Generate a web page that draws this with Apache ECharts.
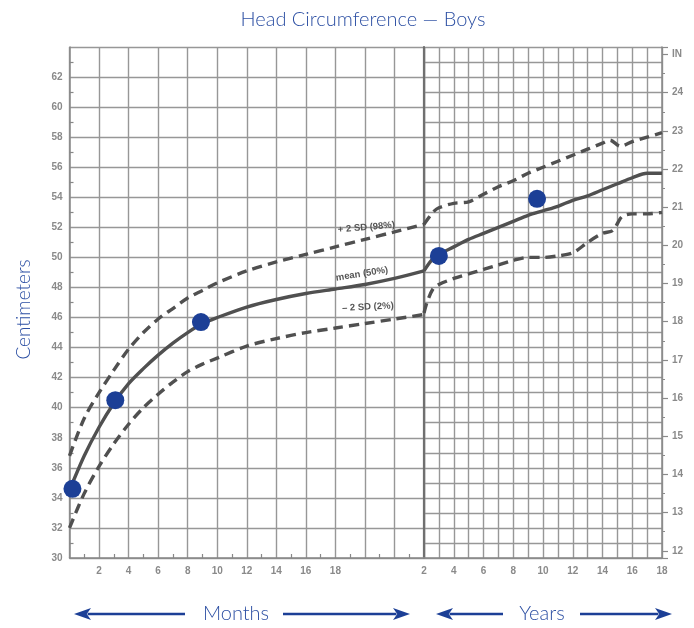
<!DOCTYPE html>
<html><head><meta charset="utf-8">
<script src="https://cdn.jsdelivr.net/npm/echarts@6/dist/echarts.min.js"></script>
<style>html,body{margin:0;padding:0;background:#fff}#c{width:694px;height:628px}</style>
</head><body><div id="c"></div>
<script>
// ---- tick labels ----
const monthTicks = [2, 4, 6, 8, 10, 12, 14, 16, 18];
const yearTicks = [2, 4, 6, 8, 10, 12, 14, 16, 18];
const cmTicks = [30, 32, 34, 36, 38, 40, 42, 44, 46, 48, 50, 52, 54, 56, 58, 60, 62];
const inchTicks = [12, 13, 14, 15, 16, 17, 18, 19, 20, 21, 22, 23, 24];

// ---- months section (age in months, head circumference cm) ----
const monthAges   = [0, 1, 2, 3, 4, 5, 6, 7, 8, 9, 10, 12, 14, 16, 18, 20, 22, 24];
const meanMonths  = [34.5, 36.8, 38.7, 40.3, 41.6, 42.6, 43.5, 44.3, 45.0, 45.6, 46.0, 46.7, 47.2, 47.6, 47.9, 48.2, 48.6, 49.1];
const upperMonths = [36.8, 39.3, 41.0, 42.5, 43.9, 45.0, 45.9, 46.6, 47.3, 47.8, 48.3, 49.1, 49.7, 50.2, 50.7, 51.2, 51.7, 52.2];
const lowerMonths = [32.0, 34.3, 36.1, 37.6, 38.9, 40.0, 40.9, 41.7, 42.4, 42.9, 43.3, 44.1, 44.6, 45.0, 45.3, 45.6, 45.9, 46.2];

// ---- years section (age in years, cm) ----
const meanYearAges  = [2, 2.5, 3, 4, 5, 6, 7, 8, 9, 10, 11, 12, 13, 14, 15, 16, 17, 18];
const meanYears     = [49.1, 49.8, 50.2, 50.7, 51.2, 51.6, 52.0, 52.4, 52.8, 53.1, 53.4, 53.8, 54.1, 54.5, 54.9, 55.3, 55.6, 55.6];
const upperYearAges = [2, 2.6, 3, 4, 5, 6, 7, 8, 9, 10, 11, 12, 13, 14, 14.5, 15.2, 16, 17, 18];
const upperYears    = [52.2, 53.0, 53.3, 53.6, 53.7, 54.2, 54.7, 55.1, 55.6, 56.0, 56.4, 56.8, 57.2, 57.6, 57.8, 57.4, 57.7, 58.0, 58.3];
const lowerYearAges = [2, 2.2, 2.6, 3, 4, 5, 6, 7, 8, 9, 10, 11, 12, 13, 14, 14.7, 15.3, 16, 17, 18];
const lowerYears    = [46.3, 47.0, 47.9, 48.2, 48.6, 48.9, 49.2, 49.5, 49.8, 50.0, 50.0, 50.1, 50.3, 51.0, 51.6, 51.8, 52.7, 52.9, 52.9, 53.0];

// ---- measured points ----
const pointMonthAges = [0.2, 3.1, 8.9];
const pointMonthCm   = [34.6, 40.5, 45.7];
const pointYearAges  = [3.0, 9.6];
const pointYearCm    = [50.1, 53.9];

// ---- curve labels ----
const curveLabels = ['+ 2 SD (98%)', 'mean (50%)', '\u2013 2 SD (2%)'];
const curveLabelAt = [[20.1, 52.0], [19.8, 48.9], [20.2, 46.7]];
const curveLabelRot = [5, 9, 3];

const zip = (xs, ys) => xs.map((x, i) => [x, ys[i]]);

const BLUE = '#2c4fa3';
const DOT = '#1c3f96';
const GRID = '#979797';
const CURVE = '#505050';
const tickFont = { fontSize: 10, color: '#8a8a8a', fontWeight: 'bold', fontFamily: 'Liberation Sans' };

const chart = echarts.init(document.getElementById('c'), null, { renderer: 'canvas' });

function arrow(x1, x2, y) {
  const dir = x2 > x1 ? 1 : -1;
  const head = 17;
  return {
    type: 'group', children: [
      { type: 'line', shape: { x1: x1 + dir * head * 0.8, y1: y, x2: x2, y2: y }, style: { stroke: DOT, lineWidth: 2.6 } },
      { type: 'polygon', shape: { points: [[x1, y], [x1 + dir * head, y - 6], [x1 + dir * head * 0.75, y], [x1 + dir * head, y + 6]] }, style: { fill: DOT } }
    ]
  };
}

const lineSeries = (name, xi, yi, data, dashed) => ({
  name, type: 'line', xAxisIndex: xi, yAxisIndex: yi, data,
  smooth: 0.3, showSymbol: false, symbol: 'none', silent: true,
  lineStyle: { color: CURVE, width: 3.4, type: dashed ? [10, 6] : 'solid', cap: 'butt', join: 'round' },
  z: 3
});

const option = {
  animation: false,
  backgroundColor: '#fff',
  title: {
    text: 'Head Circumference \u2014 Boys',
    left: 358, top: 5, textAlign: 'center',
    textStyle: { fontSize: 20, fontWeight: 300, color: BLUE, fontFamily: 'Lato' }
  },
  grid: [
    { left: 69.5, top: 47, width: 354.5, height: 511 },
    { left: 424, top: 47, width: 238, height: 511 }
  ],
  xAxis: [
    {
      gridIndex: 0, type: 'value', min: 0, max: 24, interval: 2,
      axisLine: { show: true, lineStyle: { color: '#888', width: 1.5 } },
      axisTick: { show: false, inside: true },
      minorTick: { show: true, splitNumber: 2, length: 4, lineStyle: { color: '#888', width: 1.2 } },
      axisLabel: { ...tickFont, margin: 8, formatter: v => monthTicks.includes(v) ? String(v) : '' },
      splitLine: { show: true, lineStyle: { color: GRID, width: 1.4 } }
    },
    {
      gridIndex: 1, type: 'value', min: 2, max: 18, interval: 1,
      axisLine: { show: true, lineStyle: { color: '#888', width: 1.5 } },
      axisTick: { show: false },
      axisLabel: { ...tickFont, margin: 8, showMinLabel: true, showMaxLabel: true, formatter: v => yearTicks.includes(v) ? String(v) : '' },
      splitLine: { show: true, lineStyle: { color: GRID, width: 1.4 } }
    }
  ],
  yAxis: [
    {
      gridIndex: 0, type: 'value', min: 30, max: 64, interval: 2, position: 'left',
      name: 'Centimeters', nameLocation: 'middle', nameGap: 36,
      nameTextStyle: { fontSize: 19, fontWeight: 300, color: BLUE, fontFamily: 'Lato', padding: [0, 0, 0, -14] },
      axisLine: { show: true, lineStyle: { color: '#888', width: 1.5 } },
      axisTick: { show: false, inside: true },
      minorTick: { show: true, splitNumber: 2, length: 4, lineStyle: { color: '#888', width: 1.2 } },
      axisLabel: { ...tickFont, margin: 7, formatter: v => cmTicks.includes(v) ? String(v) : '' },
      splitLine: { show: true, lineStyle: { color: GRID, width: 1.4 } }
    },
    {
      gridIndex: 1, type: 'value', min: 30, max: 64, interval: 1, position: 'left',
      axisLine: { show: true, lineStyle: { color: '#707070', width: 2.2 } },
      axisTick: { show: false }, axisLabel: { show: false },
      splitLine: { show: true, lineStyle: { color: GRID, width: 1.4 } }
    },
    {
      gridIndex: 1, type: 'value', position: 'right',
      min: 30 / 2.54, max: 64 / 2.54, splitNumber: 13,
      axisLine: { show: true, lineStyle: { color: '#888', width: 1.5 } },
      axisTick: { show: true, length: 6, lineStyle: { color: '#8a8a8a', width: 1.2 } },
      minorTick: { show: true, splitNumber: 2, length: 3, lineStyle: { color: '#8a8a8a', width: 1 } },
      axisLabel: {
        ...tickFont, margin: 10, showMinLabel: false, showMaxLabel: false,
        formatter: v => {
          const r = Math.round(v);
          if (Math.abs(v - r) > 1e-6) return '';
          if (inchTicks.includes(r)) return String(r);
          if (r === 25) return 'IN';
          return '';
        }
      },
      splitLine: { show: false }
    }
  ],
  series: [
    Object.assign(lineSeries('+2 SD', 0, 0, zip(monthAges, upperMonths), true), {
      markPoint: {
        symbol: 'circle', symbolSize: 0, silent: true,
        label: { show: true, position: 'inside', formatter: '{b}', fontSize: 9.5, fontWeight: 'bold', color: '#555', fontFamily: 'Liberation Sans' },
        data: curveLabels.map((t, i) => ({ name: t, coord: curveLabelAt[i], label: { rotate: curveLabelRot[i] } }))
      }
    }),
    lineSeries('mean', 0, 0, zip(monthAges, meanMonths), false),
    lineSeries('-2 SD', 0, 0, zip(monthAges, lowerMonths), true),
    lineSeries('+2 SD y', 1, 1, zip(upperYearAges, upperYears), true),
    lineSeries('mean y', 1, 1, zip(meanYearAges, meanYears), false),
    lineSeries('-2 SD y', 1, 1, zip(lowerYearAges, lowerYears), true),
    {
      type: 'scatter', xAxisIndex: 0, yAxisIndex: 0, data: zip(pointMonthAges, pointMonthCm),
      symbolSize: 18, itemStyle: { color: DOT, opacity: 1 }, z: 5, silent: true
    },
    {
      type: 'scatter', xAxisIndex: 1, yAxisIndex: 1, data: zip(pointYearAges, pointYearCm),
      symbolSize: 18, itemStyle: { color: DOT, opacity: 1 }, z: 5, silent: true
    }
  ],
  graphic: [
    arrow(74, 185, 614),
    arrow(410, 283, 614),
    { type: 'text', x: 236, y: 614, style: { text: 'Months', fill: BLUE, font: '300 20px Lato', align: 'center', verticalAlign: 'middle' } },
    arrow(436, 503, 614),
    arrow(672, 580, 614),
    { type: 'text', x: 542, y: 614, style: { text: 'Years', fill: BLUE, font: '300 20px Lato', align: 'center', verticalAlign: 'middle' } }
  ]
};
chart.setOption(option);
</script></body></html>
